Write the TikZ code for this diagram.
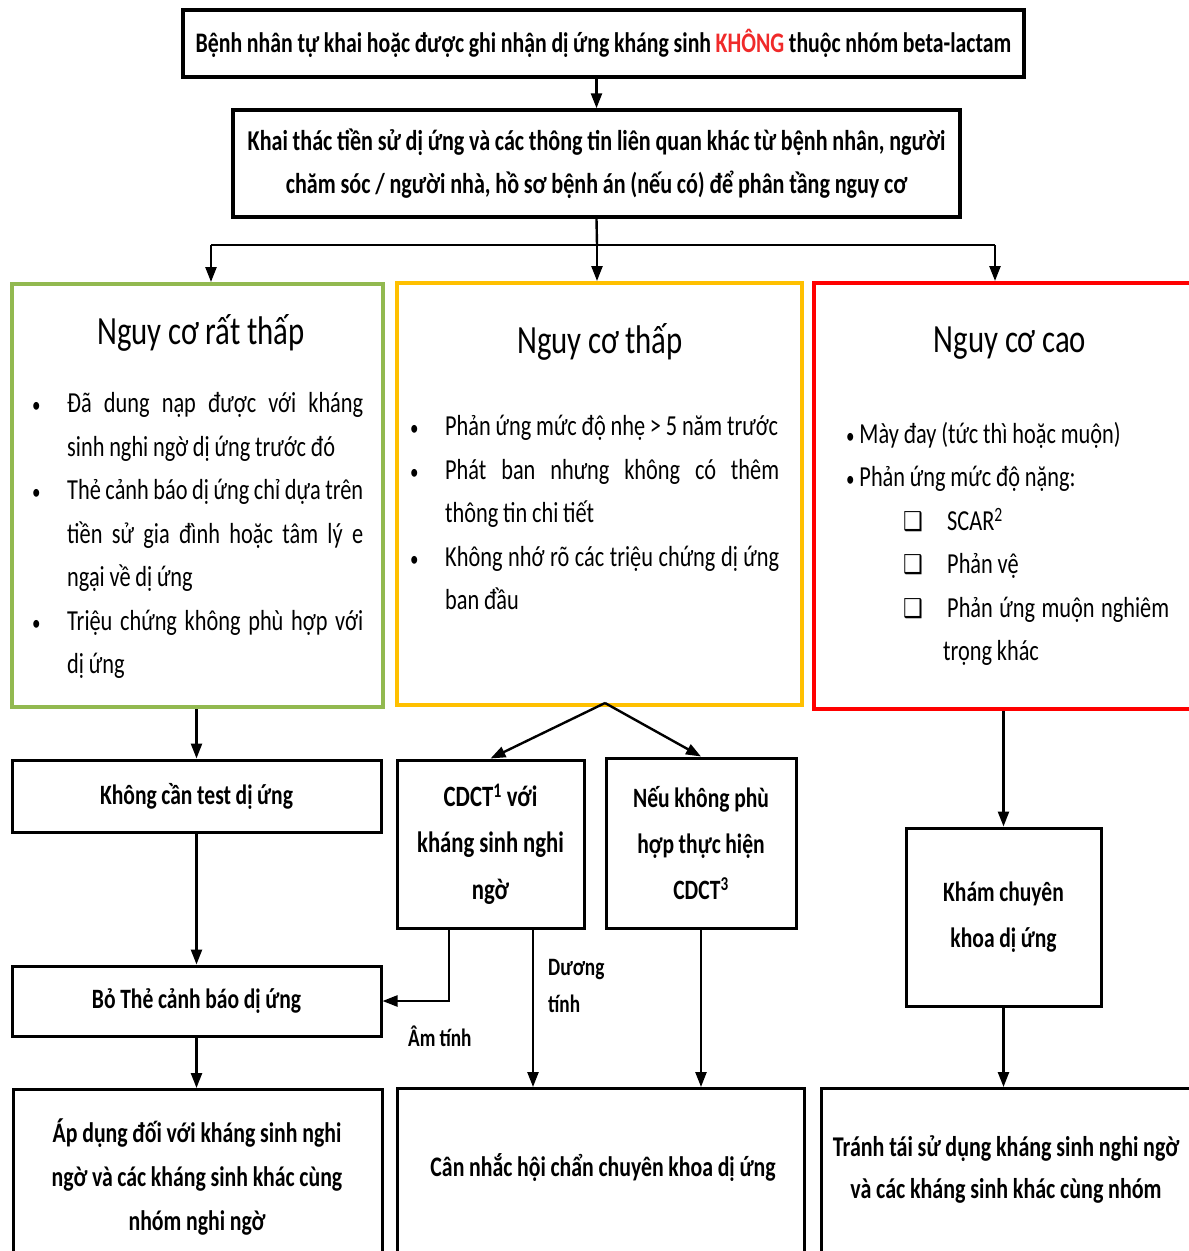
\documentclass[tikz,border=0pt]{standalone}
\usepackage{fontspec}
\setmainfont{Carlito}[FakeStretch=0.77,WordSpace=0.95]
\newfontfamily\symf{DejaVu Sans}[FakeStretch=0.85]
\usetikzlibrary{arrows.meta,calc}
\definecolor{gbox}{HTML}{92B950}
\definecolor{ybox}{HTML}{FFC000}
\definecolor{rbox}{HTML}{FF0000}
\definecolor{kred}{HTML}{F02A2A}
\tikzset{
  bbox/.style={draw=black, line width=3pt, inner sep=4pt, align=center},
  cbox/.style={line width=4pt},
  conn/.style={line width=2.4pt},
  arr/.style={line width=2.4pt, -{Triangle[length=15pt,width=11pt]}},
  ttl/.style={font={\fontsize{40}{46}\selectfont}, inner sep=0pt},
  lst/.style={inner sep=0pt, align=justify, font={\fontsize{29}{43.5}\selectfont}},
  bt/.style={font={\bfseries\fontsize{28}{46}\selectfont}},
  lbl/.style={font={\bfseries\fontsize{25}{37}\selectfont}, inner sep=0pt, align=left}
}
\newcommand{\bul}{{\fontsize{22}{22}\selectfont •}}
\newcommand{\itm}[2]{\noindent\hangindent=#1\hangafter=1\makebox[#1][l]{\rule{0pt}{30pt}\bul}#2\par}
\newcommand{\chk}{\makebox[101pt][l]{\hspace{57pt}{\symf\bfseries\fontsize{26}{30}\selectfont ❑}}}
\begin{document}
\begin{tikzpicture}[x=1pt,y=-1pt]
\useasboundingbox (0,0) rectangle (1189,1251);
\fill[white] (0,0) rectangle (1189,1251);

% top boxes
\node[bbox, line width=3.5pt, minimum width=841pt, minimum height=67pt, font={\bfseries\fontsize{28.3}{40}\selectfont}] (top) at (603.5,43.5)
  {Bệnh nhân tự khai hoặc được ghi nhận dị ứng kháng sinh \textcolor{kred}{KHÔNG} thuộc nhóm beta-lactam};
\node[bbox, line width=3.5pt, minimum width=727pt, minimum height=107pt, font={\bfseries\fontsize{28.7}{43}\selectfont}] (hist) at (596.5,163.5)
  {Khai thác tiền sử dị ứng và các thông tin liên quan khác từ bệnh nhân, người\\chăm sóc / người nhà, hồ sơ bệnh án (nếu có) để phân tầng nguy cơ};
\draw[arr] (top.south -| hist.north) -- (hist.north);

% risk boxes
\node[draw=gbox, cbox, minimum width=371pt, minimum height=423pt, anchor=north west] (green) at (10,282) {};
\node[draw=ybox, cbox, minimum width=405pt, minimum height=422pt, anchor=north west] (yel) at (395,281) {};
\node[draw=rbox, cbox, minimum width=420pt, minimum height=426pt, anchor=north west] (red) at (812,281) {};

\coordinate (hb) at (597,245);
\coordinate (bl) at (211,245);
\coordinate (br) at (995,245);
\draw[conn] (hist.south) -- (hb);
\draw[conn] (bl) -- (br);
\draw[arr] (bl) -- (bl |- green.north);
\draw[arr] (hb) -- (hb |- yel.north);
\draw[arr] (br) -- (br |- red.north);

% titles
\node[ttl, anchor=base] (t1) at (201,344) {Nguy cơ rất thấp};
\node[ttl, anchor=base] (t2) at (600,353) {Nguy cơ thấp};
\node[ttl, anchor=base] (t3) at (1010,352) {Nguy cơ cao};

% lists
\node[lst, text width=331pt, anchor=north west] (l1) at (32,382.7) {%
\itm{35pt}{Đã dung nạp được với kháng\linebreak sinh nghi ngờ dị ứng trước đó}
\itm{35pt}{Thẻ cảnh báo dị ứng chỉ dựa trên\linebreak tiền sử gia đình hoặc tâm lý e\linebreak ngại về dị ứng}
\itm{35pt}{Triệu chứng không phù hợp với\linebreak dị ứng}};
\node[lst, text width=369pt, anchor=north west] (l2) at (410,405.7) {%
\itm{35pt}{Phản ứng mức độ nhẹ > 5 năm trước}
\itm{35pt}{Phát ban nhưng không có thêm\linebreak thông tin chi tiết}
\itm{35pt}{Không nhớ rõ các triệu chứng dị ứng\linebreak ban đầu}};
\node[lst, text width=323pt, anchor=north west] (l3) at (846,413) {%
\noindent\rule{0pt}{30pt}\bul\,Mày đay (tức thì hoặc muộn)\par
\noindent\bul\,Phản ứng mức độ nặng:\par
\noindent\chk SCAR\textsuperscript{2}\par
\noindent\chk Phản vệ\par
\noindent\hangindent=97pt\hangafter=1\chk Phản ứng muộn nghiêm\linebreak trọng khác\par};

% lower boxes
\node[bbox, bt, minimum width=369pt, minimum height=72pt] (nt) at (196.5,796) {Không cần test dị ứng};
\node[bbox, bt, minimum width=369pt, minimum height=70pt] (bo) at (196.5,1001) {Bỏ Thẻ cảnh báo dị ứng};
\node[bbox, bt, minimum width=187pt, minimum height=168pt, font={\bfseries\fontsize{29.5}{46.5}\selectfont}] (cdct) at (490.5,844) {CDCT\textsuperscript{1} với\\kháng sinh nghi\\ngờ};
\node[bbox, bt, minimum width=190pt, minimum height=170pt] (neu) at (701,843) {Nếu không phù\\hợp thực hiện\\CDCT\textsuperscript{3}};
\node[bbox, bt, minimum width=195pt, minimum height=178pt] (kham) at (1003.5,917) {Khám chuyên\\khoa dị ứng};

\node[draw=black, line width=3pt, minimum width=369pt, minimum height=220pt, anchor=north west] (bl1) at (12,1088) {};
\node[draw=black, line width=3pt, minimum width=407pt, minimum height=220pt, anchor=north west] (bm1) at (396,1087) {};
\node[draw=black, line width=3pt, minimum width=420pt, minimum height=220pt, anchor=north west] (br1) at (820,1087) {};
\node[align=center, font={\bfseries\fontsize{28.3}{44}\selectfont}] (blt) at (197,1177) {Áp dụng đối với kháng sinh nghi\\ngờ và các kháng sinh khác cùng\\nhóm nghi ngờ};
\node[align=center, font={\bfseries\fontsize{28.3}{44}\selectfont}] (bmt) at (603,1168) {Cân nhắc hội chẩn chuyên khoa dị ứng};
\node[align=center, font={\bfseries\fontsize{28.6}{42}\selectfont}] (brt) at (1006,1169) {Tránh tái sử dụng kháng sinh nghi ngờ\\và các kháng sinh khác cùng nhóm};

% connectors lower
\draw[arr] (nt.north |- green.south) -- (nt.north);
\draw[arr] (nt.south) -- (bo.north);
\draw[arr] (bo.south) -- (bo.south |- bl1.north);
\coordinate (ys) at (605,703);
\draw[arr] (ys) -- (cdct.north);
\draw[arr] (ys) -- (neu.north);
\draw[arr] ([xshift=-41.5pt]cdct.south) |- (bo.east);
\draw[arr] ([xshift=42.5pt]cdct.south) -- ([xshift=42.5pt]cdct.south |- bm1.north);
\draw[arr] (neu.south) -- (neu.south |- bm1.north);
\draw[arr] (kham.north |- red.south) -- (kham.north);
\draw[arr] (kham.south) -- (kham.south |- br1.north);

\node[lbl, anchor=west] (dt) at (548,986) {Dương\\tính};
\node[lbl, anchor=west] (am) at (408,1036) {Âm tính};
\end{tikzpicture}
\end{document}
